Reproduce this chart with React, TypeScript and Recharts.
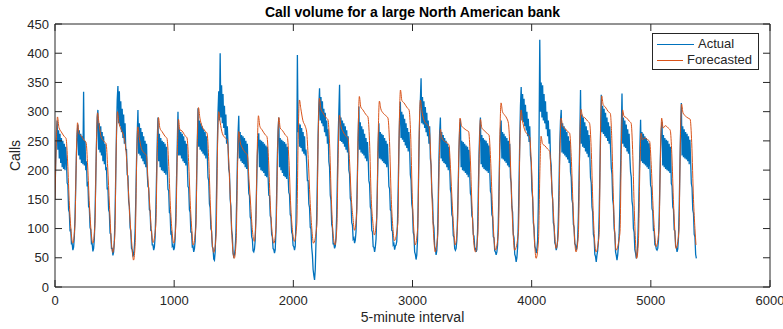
import { LineChart, Line, XAxis, YAxis, Legend, Label } from "recharts";

const BLUE = "#0072BD";
const ORANGE = "#D95319";
const AXIS = "#262626";
const FONT = "'Liberation Sans', Arial, Helvetica, sans-serif";

const xTicks = [0, 1000, 2000, 3000, 4000, 5000, 6000];
const yTicks = [0, 50, 100, 150, 200, 250, 300, 350, 400, 450];

const actualStep = 6;
const actualCalls = [
  150, 220, 265, 285, 235, 268, 220, 262, 212, 255, 205, 250, 202, 245, 200, 240, 215, 178, 175, 132, 128, 97, 98, 74, 74, 63,
  68, 85, 120, 175, 230, 262, 278, 225, 268, 218, 262, 212, 258, 210, 334, 208, 250, 200, 215, 172, 180, 137, 136, 102, 98, 74, 74, 61,
  66, 82, 125, 185, 245, 290, 303, 235, 280, 230, 275, 225, 265, 215, 258, 210, 245, 200, 205, 167, 170, 132, 128, 92, 91, 66, 66, 54,
  60, 78, 125, 195, 265, 320, 344, 280, 335, 275, 318, 265, 305, 255, 295, 245, 280, 235, 235, 192, 190, 147, 138, 102, 96, 66, 64, 52,
  56, 68, 95, 150, 215, 262, 303, 228, 280, 225, 272, 220, 265, 215, 258, 210, 250, 205, 245, 195, 172, 170, 132, 130, 97, 96, 72, 72, 63,
  68, 85, 130, 190, 250, 290, 215, 262, 205, 255, 200, 250, 198, 248, 195, 245, 192, 240, 200, 167, 165, 127, 126, 92, 94, 70, 72, 63,
  67, 82, 125, 185, 245, 300, 225, 270, 225, 265, 220, 262, 215, 258, 212, 250, 208, 245, 210, 172, 170, 132, 128, 94, 94, 69, 70, 60,
  65, 78, 115, 180, 245, 306, 240, 285, 235, 280, 232, 275, 228, 270, 225, 265, 220, 258, 225, 187, 182, 142, 136, 100, 96, 69, 66, 48, 46,
  60, 100, 170, 240, 300, 335, 285, 400, 290, 345, 280, 330, 272, 310, 260, 295, 245, 275, 245, 202, 195, 150, 138, 97, 88, 58, 52,
  55, 65, 90, 145, 210, 262, 293, 220, 265, 215, 260, 212, 258, 210, 255, 205, 250, 202, 245, 198, 160, 156, 120, 116, 86, 82, 62, 60,
  65, 80, 120, 175, 225, 255, 263, 205, 252, 200, 250, 198, 248, 195, 245, 190, 242, 188, 240, 190, 157, 156, 122, 118, 90, 86, 66, 64, 58,
  64, 95, 160, 225, 268, 290, 205, 255, 200, 252, 195, 250, 190, 248, 188, 245, 185, 240, 190, 162, 158, 124, 121, 94, 90, 71, 69, 63,
  70, 110, 200, 397, 265, 280, 240, 278, 238, 272, 232, 265, 228, 258, 225, 235, 212, 182, 182, 142, 136, 102, 100, 68, 55, 30, 20, 12,
  30, 75, 120, 190, 260, 310, 340, 285, 325, 280, 318, 275, 305, 265, 298, 258, 285, 245, 270, 215, 205, 157, 148, 107, 101, 74, 74, 66,
  70, 85, 125, 190, 255, 300, 346, 250, 290, 248, 285, 245, 280, 240, 275, 235, 268, 230, 258, 200, 193, 152, 146, 110, 106, 82, 84, 75,
  80, 95, 135, 195, 255, 309, 235, 282, 230, 275, 228, 270, 225, 262, 220, 255, 215, 248, 220, 182, 176, 137, 133, 97, 94, 69, 68, 60,
  68, 82, 120, 180, 240, 280, 220, 265, 218, 262, 215, 260, 212, 255, 210, 250, 205, 245, 210, 172, 168, 132, 130, 97, 96, 72, 74, 64, 70, 72,
  78, 110, 170, 240, 290, 317, 255, 300, 252, 295, 248, 288, 242, 280, 238, 272, 232, 265, 235, 192, 183, 142, 133, 94, 88, 60, 56, 47,
  55, 80, 150, 230, 290, 320, 357, 280, 325, 278, 318, 272, 308, 265, 298, 258, 285, 245, 275, 220, 208, 162, 150, 110, 101, 70, 65, 55,
  62, 85, 150, 220, 265, 290, 220, 265, 215, 260, 212, 255, 210, 250, 205, 245, 200, 240, 205, 167, 160, 124, 120, 88, 85, 66, 63,
  66, 80, 120, 175, 235, 270, 287, 205, 250, 200, 248, 198, 245, 195, 242, 192, 240, 188, 235, 193, 160, 156, 122, 118, 90, 87, 68, 66, 60,
  64, 95, 160, 225, 265, 290, 210, 260, 205, 255, 202, 252, 200, 250, 198, 246, 195, 242, 200, 164, 160, 124, 120, 86, 84, 62, 60, 55,
  60, 72, 110, 170, 230, 270, 285, 220, 265, 218, 262, 215, 258, 212, 255, 208, 250, 205, 245, 187, 178, 137, 128, 90, 84, 56, 52, 43,
  50, 68, 110, 180, 250, 310, 342, 285, 330, 282, 322, 275, 312, 268, 300, 258, 288, 248, 275, 225, 213, 165, 153, 110, 101, 70, 66, 58,
  64, 80, 140, 260, 423, 300, 350, 290, 345, 285, 330, 280, 318, 270, 300, 258, 285, 245, 270, 220, 208, 162, 150, 110, 104, 76, 72, 63,
  68, 80, 118, 180, 245, 285, 303, 230, 280, 228, 275, 225, 270, 222, 265, 218, 258, 212, 250, 197, 188, 150, 143, 107, 102, 74, 72, 63,
  68, 82, 122, 190, 255, 337, 245, 295, 240, 290, 238, 282, 232, 275, 228, 268, 222, 260, 225, 187, 178, 137, 128, 90, 84, 56, 52, 43, 55,
  62, 78, 120, 190, 260, 329, 265, 310, 262, 305, 258, 298, 255, 290, 250, 282, 245, 275, 238, 204, 193, 150, 140, 100, 91, 60, 54, 46, 55,
  70, 90, 135, 200, 265, 331, 245, 290, 240, 285, 238, 278, 232, 270, 228, 262, 222, 197, 188, 147, 138, 100, 94, 64, 58, 49,
  55, 75, 120, 180, 240, 286, 215, 265, 212, 262, 210, 258, 208, 255, 205, 250, 202, 246, 208, 174, 170, 134, 130, 97, 96, 72, 72, 65, 63,
  66, 80, 120, 180, 240, 270, 283, 208, 260, 205, 255, 202, 252, 200, 250, 198, 245, 195, 240, 177, 173, 137, 133, 98, 96, 70, 68, 60,
  65, 85, 135, 205, 270, 315, 225, 275, 222, 270, 220, 265, 218, 262, 215, 258, 210, 252, 215, 177, 170, 132, 126, 90, 86, 56, 49,
];

// forecast, [interval, calls] turning points per day
const forecastPoints: [number, number][] = [
  [0, 149], [10, 240], [21, 291], [33, 273], [51, 266], [76, 258], [93, 254], [106, 214], [121, 140], [135, 95], [149, 75],
  [167, 105], [179, 221], [189, 281], [201, 263], [219, 259], [244, 251], [261, 247], [274, 207], [289, 140], [303, 95], [317, 75],
  [335, 105], [347, 238], [357, 298], [369, 280], [387, 257], [412, 249], [429, 245], [442, 205], [457, 140], [471, 82], [485, 59],
  [502, 89], [514, 240], [524, 300], [536, 282], [554, 270], [574, 260], [597, 230], [612, 180], [628, 120], [644, 75], [659, 46],
  [673, 76], [685, 214], [695, 274], [707, 256], [725, 237], [750, 229], [767, 225], [780, 185], [795, 140], [809, 96], [822, 76],
  [846, 106], [858, 230], [868, 290], [880, 272], [898, 266], [923, 258], [940, 254], [953, 214], [968, 140], [982, 95], [996, 75],
  [1014, 105], [1026, 227], [1036, 287], [1048, 269], [1066, 267], [1091, 259], [1108, 255], [1121, 215], [1136, 140], [1150, 92], [1158, 72],
  [1182, 102], [1194, 247], [1204, 307], [1216, 289], [1234, 275], [1259, 267], [1276, 263], [1289, 223], [1304, 140], [1318, 80], [1332, 59],
  [1352, 89], [1364, 240], [1374, 300], [1386, 282], [1404, 263], [1429, 255], [1446, 251], [1459, 211], [1474, 140], [1488, 75], [1504, 49],
  [1520, 79], [1532, 206], [1542, 266], [1554, 248], [1572, 238], [1597, 230], [1614, 226], [1627, 186], [1642, 140], [1656, 98], [1672, 78],
  [1685, 108], [1697, 233], [1707, 293], [1719, 275], [1737, 269], [1762, 261], [1779, 257], [1792, 217], [1807, 140], [1821, 95], [1836, 75],
  [1856, 105], [1868, 230], [1878, 290], [1890, 272], [1908, 268], [1933, 260], [1950, 256], [1963, 216], [1978, 140], [1992, 98], [2008, 78],
  [2029, 108], [2041, 260], [2051, 320], [2063, 305], [2080, 285], [2100, 275], [2112, 265], [2125, 220], [2140, 150], [2155, 100], [2169, 75],
  [2197, 105], [2209, 263], [2219, 323], [2231, 305], [2249, 298], [2274, 290], [2291, 286], [2304, 246], [2319, 150], [2333, 92], [2350, 72],
  [2365, 102], [2377, 234], [2387, 294], [2399, 276], [2417, 266], [2442, 258], [2459, 254], [2472, 214], [2487, 150], [2501, 117], [2513, 97],
  [2532, 127], [2544, 266], [2554, 326], [2566, 308], [2584, 303], [2609, 295], [2626, 291], [2639, 251], [2654, 150], [2668, 109], [2680, 89],
  [2700, 119], [2712, 258], [2722, 318], [2734, 305], [2752, 298], [2777, 293], [2794, 289], [2807, 249], [2822, 150], [2836, 99], [2848, 79],
  [2877, 109], [2889, 277], [2899, 337], [2911, 319], [2929, 315], [2954, 307], [2971, 303], [2984, 263], [2999, 150], [3013, 92], [3022, 72],
  [3044, 102], [3056, 260], [3066, 320], [3078, 302], [3096, 286], [3121, 278], [3138, 274], [3151, 234], [3166, 140], [3180, 80], [3190, 60],
  [3212, 90], [3224, 210], [3234, 270], [3246, 256], [3264, 250], [3289, 247], [3306, 243], [3319, 203], [3334, 140], [3348, 92], [3357, 72],
  [3377, 102], [3389, 229], [3399, 289], [3411, 276], [3429, 272], [3454, 268], [3471, 266], [3484, 226], [3499, 140], [3513, 80], [3528, 60],
  [3548, 90], [3560, 227], [3570, 287], [3582, 272], [3600, 268], [3625, 263], [3642, 260], [3655, 220], [3670, 140], [3684, 83], [3695, 63],
  [3721, 93], [3733, 255], [3743, 315], [3755, 300], [3770, 295], [3790, 289], [3805, 280], [3818, 235], [3832, 150], [3845, 90], [3857, 63],
  [3889, 93], [3901, 243], [3911, 303], [3923, 285], [3941, 269], [3966, 261], [3983, 257], [3996, 217], [4011, 140], [4025, 75], [4037, 49],
  [4057, 79], [4069, 198], [4079, 258], [4091, 245], [4109, 242], [4134, 236], [4151, 232], [4164, 192], [4179, 140], [4193, 90], [4205, 66],
  [4225, 96], [4237, 229], [4247, 289], [4259, 275], [4277, 272], [4302, 266], [4319, 263], [4332, 223], [4347, 140], [4361, 80], [4372, 60],
  [4392, 90], [4404, 244], [4414, 304], [4426, 292], [4444, 290], [4469, 284], [4486, 280], [4499, 240], [4514, 140], [4528, 80], [4540, 60],
  [4566, 90], [4578, 267], [4588, 327], [4600, 312], [4618, 308], [4643, 300], [4660, 297], [4673, 250], [4686, 150], [4698, 90], [4708, 63],
  [4741, 93], [4753, 243], [4763, 303], [4775, 292], [4793, 290], [4818, 284], [4835, 280], [4847, 235], [4860, 140], [4872, 75], [4881, 49],
  [4896, 79], [4908, 203], [4918, 263], [4930, 252], [4948, 255], [4973, 252], [4990, 249], [5003, 210], [5018, 140], [5032, 92], [5044, 69],
  [5069, 99], [5081, 229], [5091, 289], [5103, 272], [5121, 276], [5146, 272], [5163, 268], [5176, 228], [5191, 140], [5203, 90], [5211, 66],
  [5236, 96], [5248, 253], [5258, 313], [5270, 298], [5288, 293], [5313, 289], [5330, 287], [5343, 247], [5358, 150], [5370, 100], [5379, 72],
];

const actualData = actualCalls.map((v, i) => ({ x: i * actualStep, y: v }));
const forecastData = forecastPoints.map(([x, y]) => ({ x, y }));

function LegendBox(props: any) {
  const items = props.payload || [];
  return (
    <div
      style={{
        border: `1px solid ${AXIS}`,
        background: "#fff",
        padding: "2px 6px 1px 4px",
        fontFamily: FONT,
        fontSize: 13,
        color: AXIS,
      }}
    >
      {items.map((entry: any) => (
        <div key={entry.value} style={{ display: "flex", alignItems: "center", height: 16 }}>
          <svg width={37} height={3} style={{ display: "block" }}>
            <line x1={0} y1={1.5} x2={37} y2={1.5} stroke={entry.color} strokeWidth={1} />
          </svg>
          <span style={{ marginLeft: 4, lineHeight: "16px" }}>{entry.value}</span>
        </div>
      ))}
    </div>
  );
}

const tickStyle = { fill: AXIS, fontSize: 13, fontFamily: FONT };

export default function App() {
  return (
    <div style={{ position: "absolute", left: 0, top: 0, width: 783, height: 329, background: "#fff" }}>
      <div
        style={{
          position: "absolute",
          left: 55,
          width: 715,
          top: 4,
          textAlign: "center",
          fontFamily: FONT,
          fontWeight: "bold",
          fontSize: 14,
          lineHeight: "16px",
          color: "#000",
        }}
      >
        Call volume for a large North American bank
      </div>
      <LineChart width={783} height={329} margin={{ top: 0, right: 0, bottom: 0, left: 0 }} style={{ fontFamily: FONT }}>
        <XAxis
          dataKey="x"
          type="number"
          domain={[0, 6000]}
          ticks={xTicks}
          interval={0}
          height={42}
          tickSize={-7}
          tickMargin={16}
          tick={tickStyle}
          stroke={AXIS}
          allowDataOverflow
        >
          <Label value="5-minute interval" position="insideBottom" offset={7} fill={AXIS} fontSize={14} fontFamily={FONT} />
        </XAxis>
        <XAxis
          xAxisId="top"
          orientation="top"
          dataKey="x"
          type="number"
          domain={[0, 6000]}
          ticks={xTicks}
          interval={0}
          height={24}
          tickSize={-7}
          tickFormatter={() => ""}
          stroke={AXIS}
          allowDataOverflow
        />
        <YAxis
          type="number"
          domain={[0, 450]}
          ticks={yTicks}
          interval={0}
          width={55}
          tickSize={-7}
          tickMargin={13}
          tick={tickStyle}
          stroke={AXIS}
          allowDataOverflow
        >
          <Label
            value="Calls"
            angle={-90}
            position="insideLeft"
            offset={15}
            fill={AXIS}
            fontSize={14}
            fontFamily={FONT}
            style={{ textAnchor: "middle" }}
          />
        </YAxis>
        <YAxis
          yAxisId="right"
          orientation="right"
          type="number"
          domain={[0, 450]}
          ticks={yTicks}
          interval={0}
          width={13}
          tickSize={-7}
          tickFormatter={() => ""}
          stroke={AXIS}
          allowDataOverflow
        />
        <Legend
          layout="vertical"
          align="center"
          verticalAlign="middle"
          content={LegendBox}
          wrapperStyle={{ left: 652, top: 33, width: 107 }}
        />
        <Line
          data={actualData}
          dataKey="y"
          name="Actual"
          type="linear"
          stroke={BLUE}
          strokeWidth={1.3}
          dot={false}
          activeDot={false}
          isAnimationActive={false}
        />
        <Line
          data={forecastData}
          dataKey="y"
          name="Forecasted"
          type="monotone"
          stroke={ORANGE}
          strokeWidth={1}
          dot={false}
          activeDot={false}
          isAnimationActive={false}
        />
      </LineChart>
    </div>
  );
}
